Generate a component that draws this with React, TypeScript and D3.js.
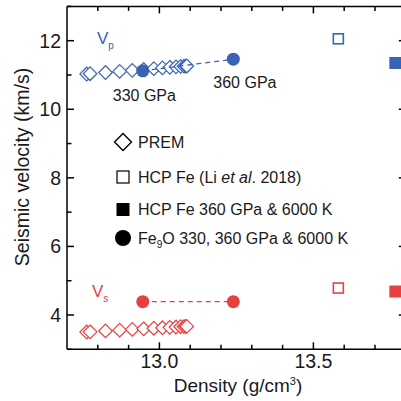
import React from "react";
import * as d3 from "d3";

const premDensity = [12.764, 12.775, 12.825, 12.871, 12.912, 12.949, 12.982, 13.010, 13.034, 13.054, 13.069, 13.080, 13.086, 13.089];
const premVp = [11.028, 11.036, 11.072, 11.105, 11.135, 11.162, 11.185, 11.206, 11.223, 11.237, 11.248, 11.256, 11.261, 11.262];
const premVs = [3.504, 3.510, 3.535, 3.558, 3.579, 3.598, 3.614, 3.628, 3.640, 3.650, 3.658, 3.663, 3.667, 3.668];

const fe9oDensity = [12.946, 13.240];
const fe9oVp = [11.12, 11.46];
const fe9oVs = [4.39, 4.39];
const fe9oLabels = ["330 GPa", "360 GPa"];

const liDensity = [13.581];
const liVp = [12.055];
const liVs = [4.787];

const hcpDensity = [13.766];
const hcpVp = [11.35];
const hcpVs = [4.685];

const xMajorTicks = [13.0, 13.5];
const xMinorTicks = [12.8, 12.9, 13.1, 13.2, 13.3, 13.4, 13.6, 13.7];
const yMajorTicks = [4, 6, 8, 10, 12];
const yMinorTicks = [3, 5, 7, 9, 11, 13];

const BLUE = "#3b62b6";
const RED = "#e8403f";
const TEXT = "#1a1a1a";
const FONT = "'Liberation Sans', Arial, Helvetica, sans-serif";

export default function App() {
  const x = d3.scaleLinear().domain([12.7, 13.8]).range([67, 405.8]);
  const y = d3.scaleLinear().domain([3, 13]).range([349.3, 6.4]);
  const [x0, x1] = x.range();
  const [yb, yt] = y.range();

  const diamond = (cx: number, cy: number, r: number) =>
    `M${cx},${cy - r}L${cx + r},${cy}L${cx},${cy + r}L${cx - r},${cy}Z`;

  const lineGen = d3
    .line<number>()
    .x((_, i) => x(fe9oDensity[i]))
    .y((d) => y(d));

  const major = 7;
  const minor = 4.5;
  const dr = 6.8;

  return (
    <svg
      width={401}
      height={401}
      style={{ position: "absolute", left: 0, top: 0, background: "#fff" }}
      fontFamily={FONT}
    >
      <rect x={0} y={0} width={401} height={401} fill="#fff" />
      <clipPath id="plot">
        <rect x={x0} y={yt} width={x1 - x0} height={yb - yt} />
      </clipPath>

      <g clipPath="url(#plot)">
        {premDensity.map((d, i) => (
          <path key={"pvp" + i} d={diamond(x(d), y(premVp[i]), dr)} fill="#fff" stroke={BLUE} strokeWidth={1.2} />
        ))}
        {premDensity.map((d, i) => (
          <path key={"pvs" + i} d={diamond(x(d), y(premVs[i]), dr)} fill="#fff" stroke={RED} strokeWidth={1.2} />
        ))}

        <path d={lineGen(fe9oVp) || ""} fill="none" stroke={BLUE} strokeWidth={1.3} strokeDasharray="5,4" />
        <path d={lineGen(fe9oVs) || ""} fill="none" stroke={RED} strokeWidth={1.3} strokeDasharray="5,4" />

        {fe9oDensity.map((d, i) => (
          <circle key={"cvp" + i} cx={x(d)} cy={y(fe9oVp[i])} r={6.5} fill={BLUE} />
        ))}
        {fe9oDensity.map((d, i) => (
          <circle key={"cvs" + i} cx={x(d)} cy={y(fe9oVs[i])} r={6.5} fill={RED} />
        ))}

        {liDensity.map((d, i) => (
          <rect key={"lvp" + i} x={x(d) - 5} y={y(liVp[i]) - 5} width={10} height={10} fill="#fff" stroke={BLUE} strokeWidth={1.6} />
        ))}
        {liDensity.map((d, i) => (
          <rect key={"lvs" + i} x={x(d) - 5} y={y(liVs[i]) - 5} width={10} height={10} fill="#fff" stroke={RED} strokeWidth={1.6} />
        ))}

        {hcpDensity.map((d, i) => (
          <rect key={"hvp" + i} x={x(d) - 6} y={y(hcpVp[i]) - 6} width={12} height={12} fill={BLUE} />
        ))}
        {hcpDensity.map((d, i) => (
          <rect key={"hvs" + i} x={x(d) - 6} y={y(hcpVs[i]) - 6} width={12} height={12} fill={RED} />
        ))}
      </g>

      <text x={x(fe9oDensity[0]) - 30} y={y(fe9oVp[0]) + 30} fontSize={16} fill={TEXT}>
        {fe9oLabels[0]}
      </text>
      <text x={x(fe9oDensity[1]) - 20} y={y(fe9oVp[1]) + 29} fontSize={16} fill={TEXT}>
        {fe9oLabels[1]}
      </text>

      <text x={97} y={44} fontSize={17} fill={BLUE}>
        V<tspan fontSize={10} dy={5}>p</tspan>
      </text>
      <text x={92} y={297} fontSize={17} fill={RED}>
        V<tspan fontSize={10} dy={5}>s</tspan>
      </text>

      <g fill={TEXT} fontSize={16}>
        <path d={diamond(123, 142, 8.5)} fill="#fff" stroke="#000" strokeWidth={1.4} />
        <text x={138} y={142} dy="0.35em">PREM</text>

        <rect x={117} y={171} width={12} height={12} fill="#fff" stroke="#000" strokeWidth={1.2} />
        <text x={138} y={177} dy="0.35em">
          HCP Fe (Li <tspan fontStyle="italic">et al</tspan>. 2018)
        </text>

        <rect x={116.5} y={203} width={13} height={13} fill="#000" />
        <text x={138} y={209.5} dy="0.35em">HCP Fe 360 GPa &amp; 6000 K</text>

        <circle cx={123} cy={238} r={8} fill="#000" />
        <text x={138} y={238} dy="0.35em">
          Fe<tspan fontSize={10} dy={4}>9</tspan>
          <tspan dy={-4}>O 330, 360 GPa &amp; 6000 K</tspan>
        </text>
      </g>

      <g stroke="#000" strokeWidth={1.5}>
        <line x1={x0} y1={yb} x2={x1} y2={yb} />
        <line x1={x0} y1={yt} x2={x1} y2={yt} />
        <line x1={x0} y1={yt} x2={x0} y2={yb} />
        <line x1={x1} y1={yt} x2={x1} y2={yb} />
        {xMajorTicks.map((t) => (
          <g key={"xM" + t}>
            <line x1={x(t)} x2={x(t)} y1={yb} y2={yb - major} />
            <line x1={x(t)} x2={x(t)} y1={yt} y2={yt + major} />
          </g>
        ))}
        {xMinorTicks.map((t) => (
          <g key={"xm" + t}>
            <line x1={x(t)} x2={x(t)} y1={yb} y2={yb - minor} />
            <line x1={x(t)} x2={x(t)} y1={yt} y2={yt + minor} />
          </g>
        ))}
        {yMajorTicks.map((t) => (
          <g key={"yM" + t}>
            <line x1={x0} x2={x0 + major} y1={y(t)} y2={y(t)} />
            <line x1={x1} x2={x1 - major} y1={y(t)} y2={y(t)} />
          </g>
        ))}
        {yMinorTicks.map((t) => (
          <g key={"ym" + t}>
            <line x1={x0} x2={x0 + minor} y1={y(t)} y2={y(t)} />
            <line x1={x1} x2={x1 - minor} y1={y(t)} y2={y(t)} />
          </g>
        ))}
      </g>

      <g fontSize={19.5} fill={TEXT}>
        {xMajorTicks.map((t) => (
          <text key={"xl" + t} x={x(t)} y={368} textAnchor="middle">
            {d3.format(".1f")(t)}
          </text>
        ))}
        {yMajorTicks.map((t) => (
          <text key={"yl" + t} x={61} y={y(t)} dy="0.35em" textAnchor="end">
            {t}
          </text>
        ))}
      </g>

      <text x={238} y={392} fontSize={19} textAnchor="middle" fill={TEXT}>
        Density (g/cm<tspan fontSize={11} dy={-7}>3</tspan>
        <tspan dy={7}>)</tspan>
      </text>
      <text transform="translate(29,167) rotate(-90)" fontSize={19.5} textAnchor="middle" fill={TEXT}>
        Seismic velocity (km/s)
      </text>
    </svg>
  );
}
